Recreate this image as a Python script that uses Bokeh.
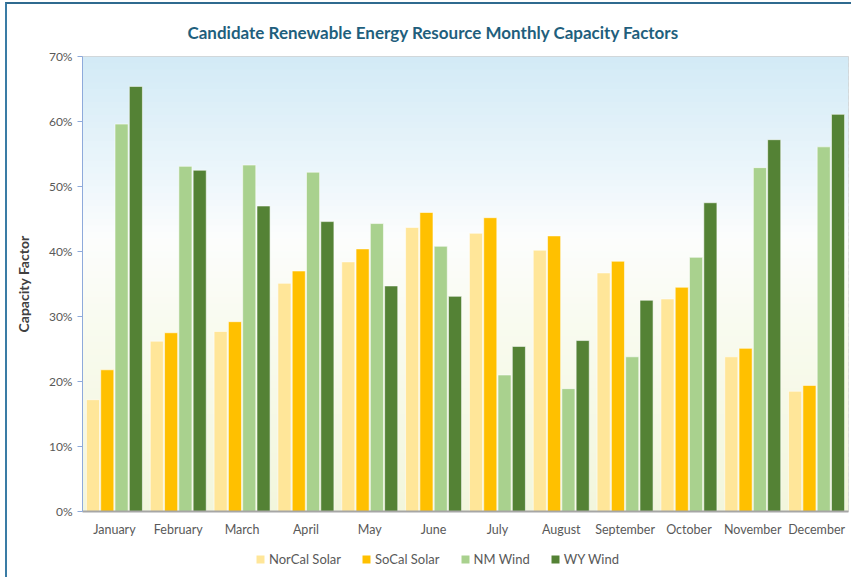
from bokeh.plotting import figure
from bokeh.layouts import column
from bokeh.models import (FactorRange, Range1d, NumeralTickFormatter, Legend, LegendItem,
                          BoxAnnotation, ColumnDataSource, FixedTicker)
from bokeh.transform import dodge
from bokeh.embed import file_html
from bokeh.resources import INLINE

months = ["January", "February", "March", "April", "May", "June", "July",
          "August", "September", "October", "November", "December"]
norcal_solar = [0.172, 0.262, 0.277, 0.351, 0.384, 0.437, 0.428, 0.402, 0.367, 0.327, 0.238, 0.185]
socal_solar = [0.218, 0.275, 0.292, 0.370, 0.404, 0.460, 0.452, 0.424, 0.385, 0.345, 0.251, 0.194]
nm_wind = [0.596, 0.531, 0.533, 0.522, 0.443, 0.408, 0.210, 0.189, 0.238, 0.391, 0.529, 0.561]
wy_wind = [0.654, 0.525, 0.470, 0.446, 0.347, 0.331, 0.254, 0.263, 0.325, 0.475, 0.572, 0.611]
y_ticks = [0.0, 0.1, 0.2, 0.3, 0.4, 0.5, 0.6, 0.7]

series_names = ["NorCal Solar", "SoCal Solar", "NM Wind", "WY Wind"]
series_cols = ["norcal", "socal", "nm", "wy"]
series_colors = ["#FFE699", "#FFC000", "#A9D18E", "#548235"]

source = ColumnDataSource(dict(month=months, norcal=norcal_solar, socal=socal_solar,
                               nm=nm_wind, wy=wy_wind))

FONT = "Lato"

p = figure(x_range=FactorRange(*months), y_range=Range1d(0, 0.7),
           frame_width=766, frame_height=455,
           min_border_left=75, min_border_right=3, min_border_top=52, min_border_bottom=26,
           output_backend="svg", toolbar_location=None,
           background_fill_color="white", border_fill_color="white")

# vertical gradient background of the plot area
stops = [(0.0, (242, 246, 220)), (0.30, (249, 251, 240)), (0.42, (252, 253, 253)),
         (0.52, (236, 246, 251)), (0.70, (210, 234, 246))]
nb = 70
for i in range(nb):
    y0 = 0.7 * i / nb
    y1 = 0.7 * (i + 1) / nb
    ym = (y0 + y1) / 2
    for j in range(len(stops) - 1):
        a, ca = stops[j]
        b, cb = stops[j + 1]
        if a <= ym <= b:
            t = (ym - a) / (b - a)
            c = tuple(int(round(ca[k] + (cb[k] - ca[k]) * t)) for k in range(3))
            break
    p.add_layout(BoxAnnotation(bottom=y0, top=min(y1 + 0.004, 0.7), fill_color="#%02x%02x%02x" % c,
                               fill_alpha=1, line_alpha=0, level="underlay"))

pitch = 0.224
width = 0.205
offsets = [-1.5 * pitch, -0.5 * pitch, 0.5 * pitch, 1.5 * pitch]
for col, color, off in zip(series_cols, series_colors, offsets):
    p.vbar(x=dodge("month", off, range=p.x_range), top=col, width=width, source=source,
           fill_color=color, line_color="white", line_alpha=0.55, line_width=1)

p.title.text = "Candidate Renewable Energy Resource Monthly Capacity Factors"
p.title.text_font = FONT
p.title.text_font_style = "bold"
p.title.text_font_size = "17px"
p.title.text_color = "#1f5f7d"
p.title.align = "left"
p.title.offset = 105
p.title.standoff = 28

p.outline_line_color = "#d0d0d0"

p.xgrid.grid_line_color = None
p.ygrid.grid_line_color = "#dcdfe4"
p.ygrid.grid_line_width = 1
p.ygrid.ticker = FixedTicker(ticks=y_ticks)

p.yaxis.ticker = FixedTicker(ticks=y_ticks)
p.yaxis.formatter = NumeralTickFormatter(format="0%")
p.yaxis.axis_label = "Capacity Factor"
p.yaxis.axis_label_text_font = FONT
p.yaxis.axis_label_text_font_style = "bold"
p.yaxis.axis_label_text_font_size = "14px"
p.yaxis.axis_label_text_color = "#404040"
p.yaxis.axis_label_standoff = 14
p.yaxis.major_label_text_font = FONT
p.yaxis.major_label_text_font_size = "12px"
p.yaxis.major_label_text_color = "#595959"
p.yaxis.axis_line_color = "#8eaadb"
p.yaxis.major_tick_line_color = "#8eaadb"
p.yaxis.major_tick_out = 5
p.yaxis.major_tick_in = 0
p.yaxis.minor_tick_line_color = None
p.yaxis.major_label_standoff = 5

p.xaxis.axis_line_color = "#a6a6a6"
p.xaxis.axis_line_width = 2
p.xaxis.major_tick_line_color = None
p.xaxis.minor_tick_line_color = None
p.xaxis.major_label_text_font = FONT
p.xaxis.major_label_text_font_size = "12.5px"
p.xaxis.major_label_text_color = "#595959"
p.xaxis.major_label_standoff = 4

# legend strip below the chart (zero-height proxy bars carry the series colours)
lg = figure(width=844, height=40, min_border=0, x_axis_location=None, y_axis_location=None,
            output_backend="svg", toolbar_location=None, outline_line_color=None,
            background_fill_color="white", border_fill_color="white",
            x_range=FactorRange(*months), y_range=Range1d(0, 1))
lg.grid.grid_line_color = None
leg_renderers = [lg.vbar(x="month", top=col, bottom=col, width=0.2, source=source,
                         fill_color=c, line_color=None)
                 for col, c in zip(series_cols, series_colors)]
legend = Legend(items=[LegendItem(label=n, renderers=[r]) for n, r in zip(series_names, leg_renderers)],
                orientation="horizontal", location=(173, 12),
                label_text_font=FONT, label_text_font_size="13px", label_text_color="#595959",
                glyph_width=10, glyph_height=10, label_standoff=4, spacing=20,
                label_height=14, border_line_color=None, background_fill_alpha=0,
                padding=2, margin=0)
lg.add_layout(legend, "center")

page = column(p, lg, spacing=0,
              styles={"border-left": "2px solid #3a7ca5", "border-top": "2px solid #2f6a8f",
                      "margin-left": "5px", "margin-top": "2px"})

open("out.html", "w").write(file_html(page, INLINE))
